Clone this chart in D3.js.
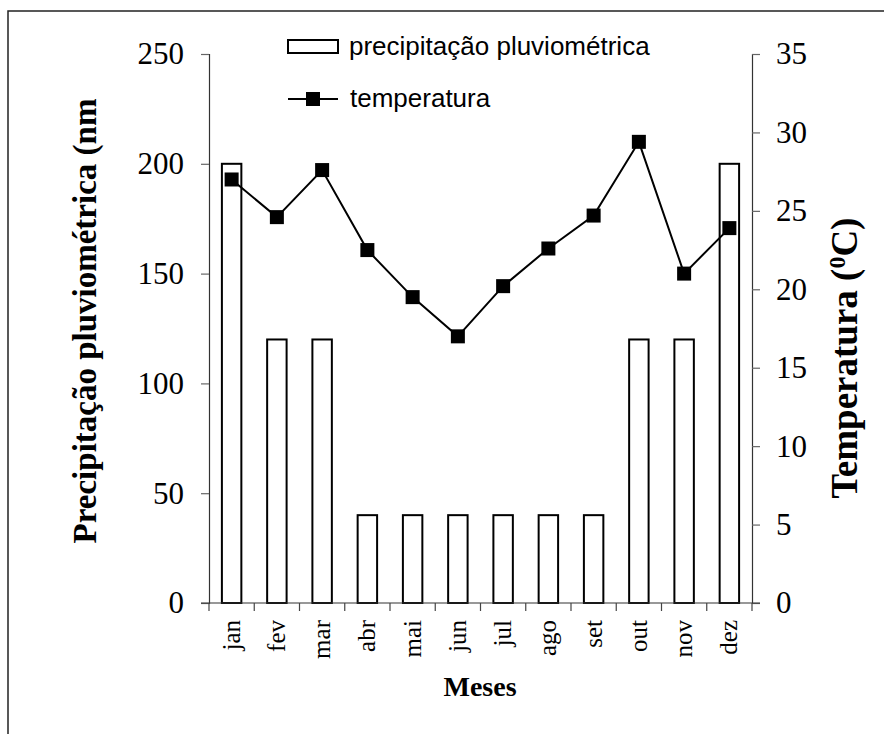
<!DOCTYPE html>
<html><head><meta charset="utf-8">
<script src="https://cdn.jsdelivr.net/npm/d3@7"></script>
<style>body{margin:0;background:#fff}svg{display:block}</style>
</head><body>
<svg id="c" width="884" height="734"></svg>
<script>
const months = ["jan","fev","mar","abr","mai","jun","jul","ago","set","out","nov","dez"];
const precipitation = [200,120,120,40,40,40,40,40,40,120,120,200];
const temperature = [27.0,24.6,27.6,22.5,19.5,17.0,20.2,22.6,24.7,29.4,21.0,23.9];
const precipTicks = [0,50,100,150,200,250];
const tempTicks = [0,5,10,15,20,25,30,35];

const svg = d3.select("#c");
const L = 209, R = 752, T = 54, B = 603;
const serif = "'Liberation Serif','Times New Roman',serif";
const sans = "'Liberation Sans',Arial,sans-serif";

// frame
svg.append("path").attr("d","M8,734V11H884").attr("fill","none").attr("stroke","#222").attr("stroke-width",1.5);

const x = d3.scaleBand().domain(months).range([L,R]).padding(0);
const yP = d3.scaleLinear().domain([0,250]).range([B,T]);
const yT = d3.scaleLinear().domain([0,35]).range([B,T]);
const barW = x.bandwidth()*0.43;

// bars
svg.append("g").selectAll("rect").data(months).join("rect")
  .attr("x",(d)=>x(d)+x.bandwidth()/2-barW/2)
  .attr("y",(d,i)=>yP(precipitation[i]))
  .attr("width",barW)
  .attr("height",(d,i)=>B-yP(precipitation[i]))
  .attr("fill","#fff").attr("stroke","#000").attr("stroke-width",2);

// left axis
const gl = svg.append("g").attr("transform",`translate(${L},0)`)
  .call(d3.axisLeft(yP).tickValues(precipTicks).tickSize(8).tickPadding(17));
gl.select(".domain").attr("stroke","#333").attr("stroke-width",1.2);
gl.selectAll(".tick line").attr("stroke","#666").attr("stroke-width",1.2);
gl.selectAll(".tick text").attr("font-family",serif).attr("font-size",31).attr("fill","#000");

// right axis
const gr = svg.append("g").attr("transform",`translate(${R},0)`)
  .call(d3.axisRight(yT).tickValues(tempTicks).tickSize(8).tickPadding(16));
gr.select(".domain").attr("stroke","#333").attr("stroke-width",1.2);
gr.selectAll(".tick line").attr("stroke","#666").attr("stroke-width",1.2);
gr.selectAll(".tick text").attr("font-family",serif).attr("font-size",31).attr("fill","#000");

// x axis
const gx = svg.append("g").attr("transform",`translate(0,${B})`);
gx.append("line").attr("x1",L-8).attr("x2",R+8).attr("y1",0).attr("y2",0).attr("stroke","#333").attr("stroke-width",1.2);
gx.selectAll("line.tk").data(d3.range(months.length+1)).join("line").attr("class","tk")
  .attr("x1",(i)=>L+i*x.step()).attr("x2",(i)=>L+i*x.step()).attr("y1",0).attr("y2",8)
  .attr("stroke","#444").attr("stroke-width",1.2);
gx.selectAll("text").data(months).join("text")
  .attr("transform",(d)=>`translate(${x(d)+x.bandwidth()/2+8},17) rotate(-90)`)
  .attr("text-anchor","end").attr("font-family",serif).attr("font-size",25).text((d)=>d);

// temperature line
const line = d3.line().x((d,i)=>x(months[i])+x.bandwidth()/2).y((d)=>yT(d));
svg.append("path").datum(temperature).attr("d",line).attr("fill","none").attr("stroke","#000").attr("stroke-width",2);
svg.append("g").selectAll("rect").data(temperature).join("rect")
  .attr("x",(d,i)=>x(months[i])+x.bandwidth()/2-7).attr("y",(d)=>yT(d)-7)
  .attr("width",14).attr("height",14).attr("fill","#000");

// titles
svg.append("text").attr("x",480).attr("y",696).attr("text-anchor","middle")
  .attr("font-family",serif).attr("font-weight","bold").attr("font-size",28).text("Meses");
svg.append("text").attr("transform","translate(96,321) rotate(-90)").attr("text-anchor","middle")
  .attr("font-family",serif).attr("font-weight","bold").attr("font-size",33).text("Precipitação pluviométrica (nm");
const rt = svg.append("text").attr("transform","translate(857,358) rotate(-90)").attr("text-anchor","middle")
  .attr("font-family",serif).attr("font-weight","bold").attr("font-size",37);
rt.append("tspan").text("Temperatura (");
rt.append("tspan").attr("dy",-12).attr("font-size",24).text("0");
rt.append("tspan").attr("dy",12).text("C)");

// legend
const lg = svg.append("g");
lg.append("rect").attr("x",288).attr("y",40).attr("width",50).attr("height",13).attr("fill","#fff").attr("stroke","#000").attr("stroke-width",2);
lg.append("text").attr("x",349).attr("y",55).attr("font-family",sans).attr("font-size",26).text("precipitação pluviométrica");
lg.append("line").attr("x1",288).attr("x2",338).attr("y1",99).attr("y2",99).attr("stroke","#000").attr("stroke-width",2);
lg.append("rect").attr("x",306).attr("y",92).attr("width",14).attr("height",14).attr("fill","#000");
lg.append("text").attr("x",350).attr("y",107).attr("font-family",sans).attr("font-size",26).text("temperatura");
</script>
</body></html>
